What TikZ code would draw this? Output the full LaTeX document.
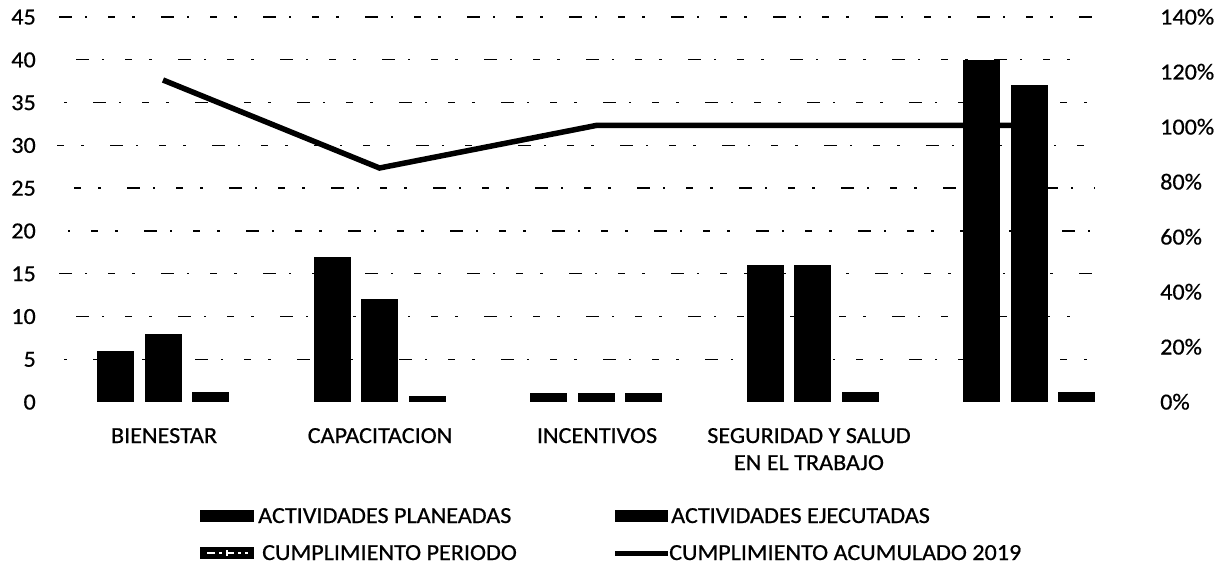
\documentclass[tikz,border=0pt]{standalone}
\usepackage{fontspec}
\setmainfont{Carlito}[FakeStretch=1.05, FakeBold=0.6]
\begin{document}
\begin{tikzpicture}[x=1pt,y=-1pt,
  lbl/.style={inner sep=0pt, font=\fontsize{23}{26}\selectfont},
  gridln/.style={black, line width=1.4pt, dash pattern=on 7pt off 17pt on 3pt off 26pt on 13pt off 13pt on 2pt off 21pt},
  barfill/.style={fill=black},
  acum/.style={black, line width=5.5pt},
  swatch/.style={fill=black}]
\useasboundingbox (0,0) rectangle (1220,572);
\fill[white] (0,0) rectangle (1220,572);
% gridlines
\foreach \k [evaluate=\k as \ph using \k*17, evaluate=\k as \yy using 402-\k*42.778] in {1,...,9}
  \draw[gridln, dash phase=\ph pt] (57,\yy) -- (1095,\yy);
% left axis labels
\foreach \v [count=\i from 0, evaluate=\i as \yy using 402-\i*42.778+7.5] in {0,5,10,15,20,25,30,35,40,45}
  \node[lbl, anchor=base east] (l\v) at (36,\yy) {\v};
% right axis labels
\foreach \v [count=\i from 0, evaluate=\i as \yy using 402-\i*55+7.5] in {0,20,40,60,80,100,120,140}
  \node[lbl, anchor=base west] (r\v) at (1160,\yy) {\v\%};
% bars: center / top1 / top2 / top3
\foreach \c/\ta/\tb/\tc in {163/350.7/333.6/392, 379.5/256.6/299.3/395.5, 596/393.4/393.4/393.4, 812.5/265.1/265.1/391.5, 1029/59.8/85.4/391.5}{
  \fill[barfill] (\c-66,402) rectangle (\c-29,\ta);
  \fill[barfill] (\c-18.5,402) rectangle (\c+18.5,\tb);
  \fill[barfill] (\c+29,402) rectangle (\c+66,\tc);
}
% cumulative line
\coordinate (p1) at (163,80);
\coordinate (p2) at (379.5,168);
\coordinate (p3) at (596,125.5);
\coordinate (p4) at (812.5,125.5);
\coordinate (p5) at (1029,125.5);
\draw[acum] (p1) -- (p2) -- (p3) -- (p4) -- (p5);
% category labels
\node[lbl, anchor=base] (c1) at (164,443) {BIENESTAR};
\node[lbl, anchor=base] (c2) at (380,443) {CAPACITACION};
\node[lbl, anchor=base] (c3) at (597,443) {INCENTIVOS};
\node[lbl, anchor=base] (c4a) at (809,443) {SEGURIDAD Y SALUD};
\node[lbl, anchor=base] (c4b) at (809,470) {EN EL TRABAJO};
% legend
\fill[swatch] (200,510) rectangle (254,522);
\node[lbl, anchor=base west] (g1) at (258,523) {ACTIVIDADES PLANEADAS};
\fill[swatch] (615,510) rectangle (668,522);
\node[lbl, anchor=base west] (g2) at (671,523) {ACTIVIDADES EJECUTADAS};
\fill[swatch] (200,547) rectangle (254,559);
\draw[white, line width=1.5pt, dash pattern=on 8pt off 4pt on 3pt off 4pt] (207,553) -- (248,553);
\draw[white, line width=1.5pt] (227,550) -- (227,556);
\node[lbl, anchor=base west] (g3) at (262,560) {CUMPLIMIENTO PERIODO};
\coordinate (s1) at (615,553);
\coordinate (s2) at (668,553);
\draw[acum, line width=5pt] (s1) -- (s2);
\node[lbl, anchor=base west] (g4) at (669,560) {CUMPLIMIENTO ACUMULADO 2019};
\end{tikzpicture}
\end{document}
